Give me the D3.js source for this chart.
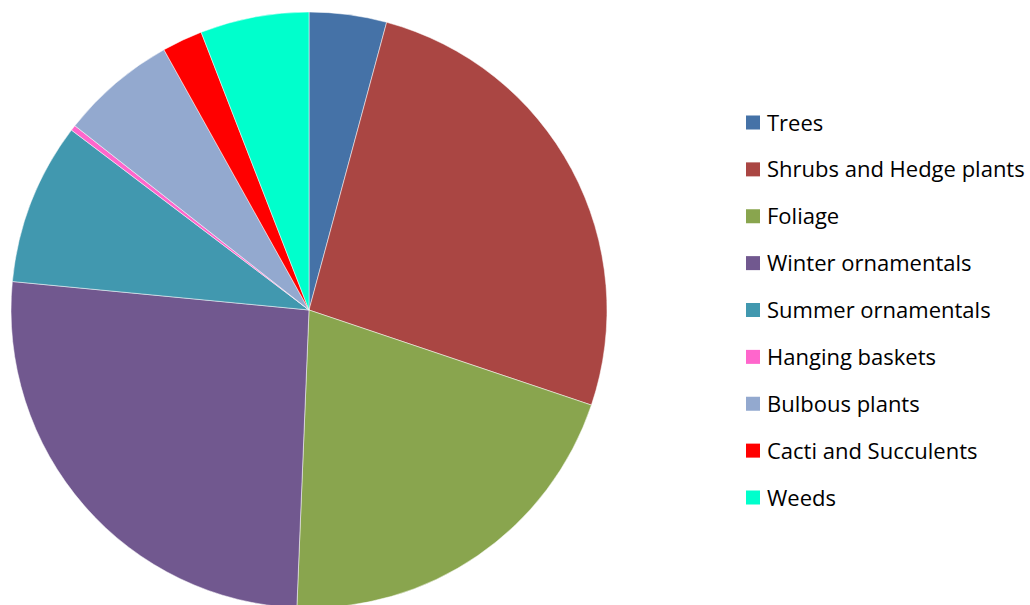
<!DOCTYPE html>
<html>
<head>
<meta charset="utf-8">
<script src="https://cdn.jsdelivr.net/npm/d3@7/dist/d3.min.js"></script>
<style>
  html, body { margin: 0; padding: 0; background: #fff; }
  svg { display: block; }
</style>
</head>
<body>
<svg id="chart" width="1030" height="605"></svg>
<script>
// Share of plant categories (percent)
const categories = [
  "Trees", "Shrubs and Hedge plants", "Foliage", "Winter ornamentals",
  "Summer ornamentals", "Hanging baskets", "Bulbous plants",
  "Cacti and Succulents", "Weeds"
];
const values = [4.2, 26.0, 20.5, 25.9, 8.8, 0.3, 6.3, 2.2, 5.9];
const colors = [
  "#4572A7", "#AA4643", "#89A54E", "#71588F", "#4198AF",
  "#FF66CC", "#93A9CF", "#FF0000", "#00FFCC"
];

const svg = d3.select("#chart");
const cx = 309, cy = 310, radius = 298;

const color = d3.scaleOrdinal().domain(categories).range(colors);
const data = categories.map((c, i) => ({ name: c, value: values[i] }));

const pie = d3.pie().value(d => d.value).sort(null);
const arc = d3.arc().innerRadius(0).outerRadius(radius);

svg.append("g")
  .attr("transform", `translate(${cx},${cy})`)
  .selectAll("path")
  .data(pie(data))
  .join("path")
  .attr("d", arc)
  .attr("fill", d => color(d.data.name))
  .attr("stroke", "#ffffff")
  .attr("stroke-width", 0.5);

// Legend
const legendY = d3.scalePoint().domain(categories).range([122.5, 497.5]);
const legend = svg.append("g")
  .selectAll("g")
  .data(categories)
  .join("g")
  .attr("transform", d => `translate(746,${legendY(d)})`);

legend.append("rect")
  .attr("x", 0).attr("y", -7)
  .attr("width", 14).attr("height", 14)
  .attr("fill", d => color(d));

legend.append("text")
  .attr("x", 21).attr("y", 8)
  .attr("font-family", "'Open Sans', 'DejaVu Sans', sans-serif")
  .attr("font-size", 22)
  .attr("fill", "#000")
  .text(d => d);
</script>
</body>
</html>
